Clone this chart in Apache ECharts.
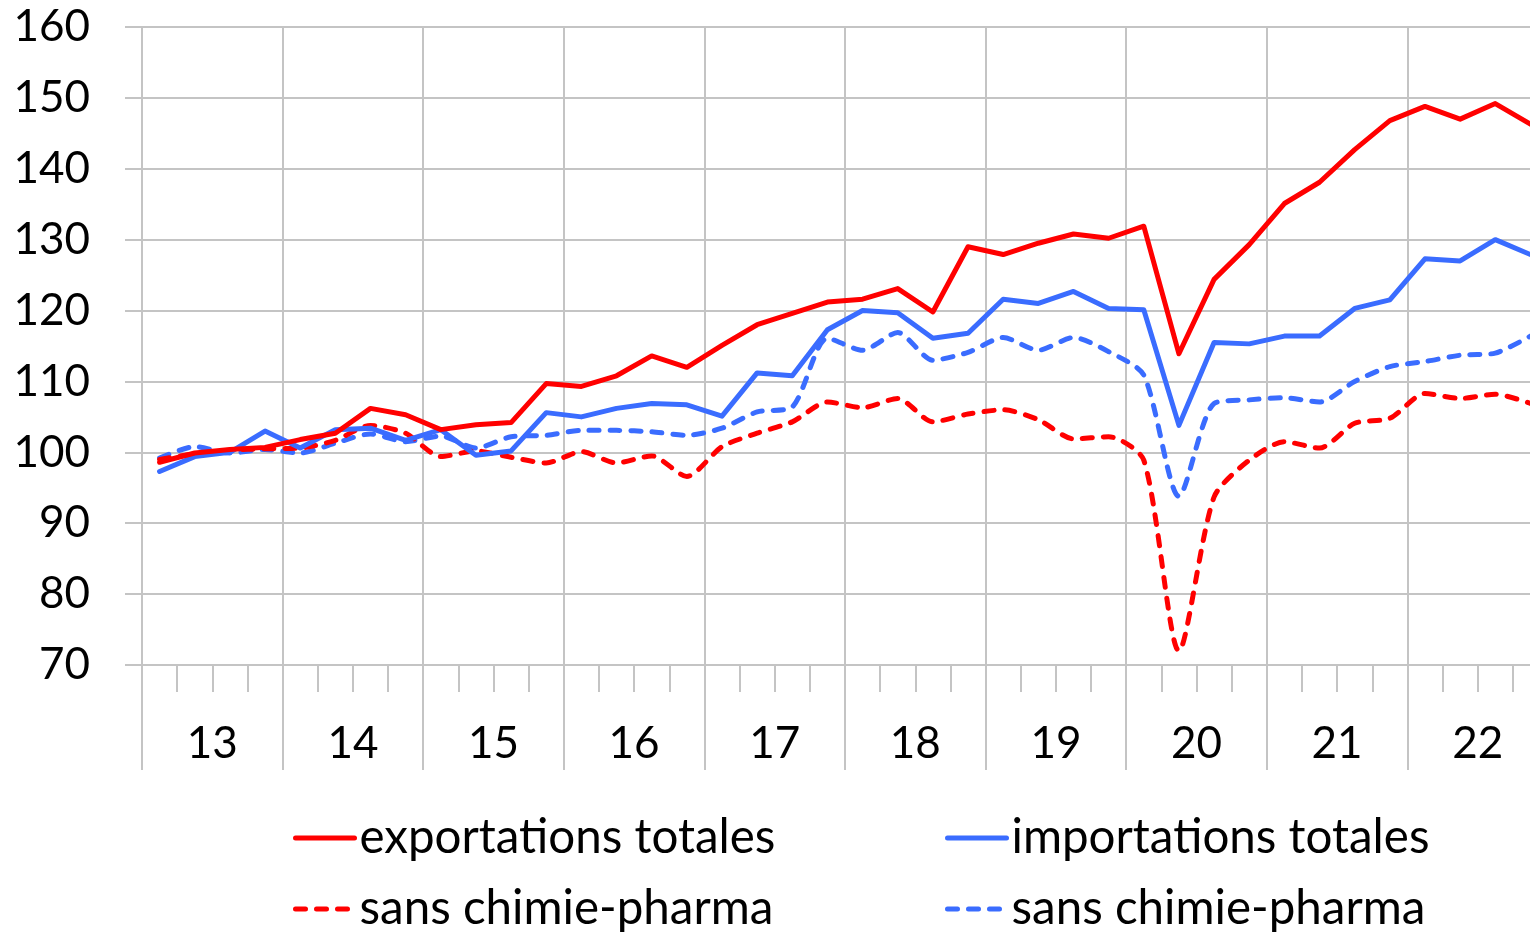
<!DOCTYPE html>
<html>
<head>
<meta charset="utf-8">
<script src="https://cdn.jsdelivr.net/npm/echarts@6/dist/echarts.min.js"></script>
<style>
  html, body { margin: 0; padding: 0; background: #fff; }
  #chart { width: 1530px; height: 932px; }
</style>
</head>
<body>
<div id="chart"></div>
<script>
// années affichées sous l'axe
var years = ['13', '14', '15', '16', '17', '18', '19', '20', '21', '22'];

// trimestres (4 par année)
var quarters = [];
for (var y = 0; y < years.length; y++) {
	for (var q = 1; q <= 4; q++) {
		quarters.push(years[y] + 'T' + q);
	}
}

// séries (base 100)
var exportsTotal = [98.6, 99.9, 100.4, 100.7, 101.8, 102.7, 106.2, 105.3, 103.2, 103.9,
	104.2, 109.7, 109.3, 110.8, 113.6, 112.0, 115.1, 118.0, 119.6, 121.2,
	121.6, 123.1, 119.8, 129.0, 127.9, 129.5, 130.8, 130.2, 131.9, 113.9,
	124.4, 129.3, 135.1, 138.1, 142.7, 146.8, 148.8, 147.0, 149.2, 146.3];
var importsTotal = [97.3, 99.4, 100.0, 103.0, 100.6, 103.2, 103.4, 101.7, 103.2, 99.6,
	100.2, 105.6, 105.0, 106.2, 106.9, 106.7, 105.1, 111.2, 110.8, 117.3,
	120.0, 119.7, 116.1, 116.8, 121.6, 121.0, 122.7, 120.3, 120.1, 103.8,
	115.5, 115.3, 116.4, 116.4, 120.3, 121.5, 127.3, 127.0, 130.0, 127.9];
var exportsExcl = [99.0, 99.8, 100.3, 100.5, 100.6, 101.7, 103.8, 102.7, 99.4, 100.2,
	99.3, 98.5, 100.1, 98.5, 99.5, 96.6, 100.8, 102.7, 104.3, 107.1,
	106.3, 107.6, 104.3, 105.4, 106.0, 104.6, 101.9, 102.2, 98.9, 72.0,
	93.7, 98.9, 101.5, 100.6, 104.1, 104.8, 108.3, 107.6, 108.2, 106.9];
var importsExcl = [99.2, 100.8, 99.9, 100.4, 99.9, 101.3, 102.6, 101.5, 102.3, 100.6,
	102.2, 102.4, 103.1, 103.1, 102.9, 102.4, 103.4, 105.7, 106.4, 116.1,
	114.4, 116.9, 113.0, 114.1, 116.2, 114.4, 116.2, 114.2, 110.9, 93.8,
	106.9, 107.4, 107.7, 107.1, 110.0, 112.1, 112.8, 113.7, 114.0, 116.4];

var RED = '#ff0000';
var BLUE = '#3a6cff';
var GRID = '#c4c4c4';
var FONT = 'Lato';

var chart = echarts.init(document.getElementById('chart'));

// un composant légende par entrée, pour placer les deux colonnes
function legendItem(name, left, top) {
	return {
		data : [ name ],
		left : left,
		top : top,
		padding : 0,
		itemWidth : 59,
		itemHeight : 14,
		selectedMode : false,
		itemStyle : { opacity : 0 },
		lineStyle : { width : 5 },
		formatter : function(n) {
			return n.replace(/ \(.*\)$/, '');
		},
		textStyle : {
			fontFamily : FONT,
			fontSize : 47.5,
			lineHeight : 50,
			color : '#000'
		}
	};
}

function lineSeries(name, data, color, dashed) {
	return {
		name : name,
		type : 'line',
		xAxisIndex : 0,
		data : data,
		symbol : 'none',
		smooth : dashed ? 0.25 : false,
		lineStyle : {
			color : color,
			width : 5,
			type : dashed ? [ 10, 11 ] : 'solid',
			cap : 'round',
			join : 'round'
		},
		itemStyle : { color : color },
		emphasis : { disabled : true },
		z : dashed ? 2 : 3
	};
}

var option = {
	animation : false,
	backgroundColor : '#fff',
	grid : {
		left : 142,
		top : 27,
		width : 1406,
		height : 638,
		outerBoundsMode : 'none'
	},
	xAxis : [ {
		type : 'category',
		data : quarters,
		position : 'bottom',
		boundaryGap : true,
		axisLine : { show : true, onZero : false, lineStyle : { color : GRID, width : 2 } },
		axisTick : { show : true, interval : 0, length : 27, lineStyle : { color : GRID, width : 2 } },
		axisLabel : { show : false },
		splitLine : { show : false }
	}, {
		type : 'category',
		data : years,
		position : 'bottom',
		boundaryGap : true,
		axisLine : { show : false, onZero : false },
		axisTick : { show : true, interval : 0, length : 105, lineStyle : { color : GRID, width : 2 } },
		axisLabel : {
			interval : 0,
			margin : 57,
			fontFamily : FONT,
			fontSize : 44,
			color : '#000'
		},
		splitLine : { show : true, interval : 0, lineStyle : { color : GRID, width : 2 } }
	} ],
	yAxis : {
		type : 'value',
		min : 70,
		max : 160,
		interval : 10,
		axisLine : { show : true, lineStyle : { color : GRID, width : 2 } },
		axisTick : { show : true, length : 17, lineStyle : { color : GRID, width : 2 } },
		axisLabel : {
			margin : 52,
			fontFamily : FONT,
			fontSize : 44,
			color : '#000'
		},
		splitLine : { show : true, lineStyle : { color : GRID, width : 2 } }
	},
	legend : [
		legendItem('exportations totales', 293, 813),
		legendItem('importations totales', 945, 813),
		legendItem('sans chimie-pharma (exp)', 293, 884),
		legendItem('sans chimie-pharma (imp)', 945, 884)
	],
	series : [
		lineSeries('sans chimie-pharma (imp)', importsExcl, BLUE, true),
		lineSeries('sans chimie-pharma (exp)', exportsExcl, RED, true),
		lineSeries('importations totales', importsTotal, BLUE, false),
		lineSeries('exportations totales', exportsTotal, RED, false)
	]
};

chart.setOption(option);
</script>
</body>
</html>
